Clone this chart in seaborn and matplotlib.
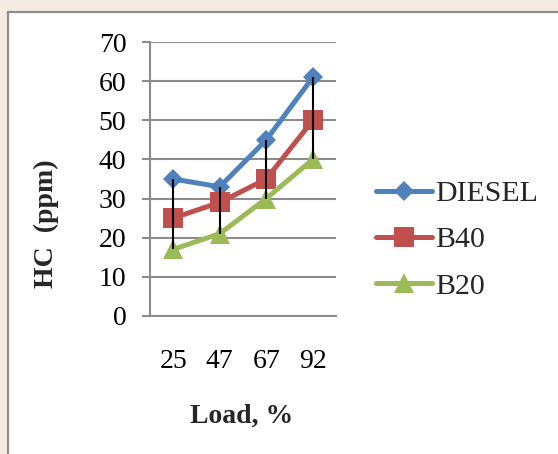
import matplotlib
matplotlib.use("Agg")
import matplotlib.pyplot as plt
from matplotlib.patches import Rectangle
import numpy as np
import pandas as pd
import seaborn as sns

loads = ["25", "47", "67", "92"]
diesel = [35, 33, 45, 61]
b40 = [25, 29, 35, 50]
b20 = [17, 21, 30, 40]
series_names = ["DIESEL", "B40", "B20"]
colors = ["#4F81BD", "#C0504D", "#9BBB59"]
markers = ["D", "s", "^"]
msizes = [10, 14, 15]
yticks = [0, 10, 20, 30, 40, 50, 60, 70]

df = pd.DataFrame({
    "Load": loads * 3,
    "HC": diesel + b40 + b20,
    "Fuel": [n for n in series_names for _ in loads],
})

sns.set_theme(style="white")
plt.rcParams["font.family"] = ["Liberation Serif", "DejaVu Serif"]

fig = plt.figure(figsize=(5.58, 4.54), dpi=100)
fig.patch.set_facecolor("#f4ece3")
frame = Rectangle((8 / 558, -0.2), 1.2, 1.2 - 12 / 454,
                  transform=fig.transFigure, facecolor="white",
                  edgecolor="#8c8c8c", linewidth=1.6, zorder=-10)
fig.patches.append(frame)

ax = fig.add_axes([150 / 558, 1 - 315.7 / 454, 186 / 558, 273.4 / 454])
ax.set_facecolor("none")

sns.pointplot(data=df, x="Load", y="HC", hue="Fuel", order=loads,
              hue_order=series_names, palette=colors, markers=markers,
              linestyles=["-", "-", "-"], errorbar=None, dodge=False,
              linewidth=3.6, ax=ax)

for line, ms in zip(ax.lines[:3], msizes):
    line.set_markersize(ms)
    line.set_markeredgewidth(0)
    line.set_solid_capstyle("round")

# high-low lines
hi = np.max([diesel, b40, b20], axis=0)
lo = np.min([diesel, b40, b20], axis=0)
ax.vlines(np.arange(len(loads)), lo, hi, color="black", linewidth=1.5, zorder=10)

ax.set_ylim(0, 70)
ax.set_xlim(-0.5, 3.5)
ax.set_yticks(yticks)
ax.yaxis.grid(True, color="#8c8c8c", linewidth=1.5)
ax.set_axisbelow(True)
for side in ["top", "right"]:
    ax.spines[side].set_visible(False)
for side in ["left", "bottom"]:
    ax.spines[side].set_color("#8c8c8c")
    ax.spines[side].set_linewidth(1.5)
ax.tick_params(axis="y", length=6, width=1.5, color="#8c8c8c", pad=11,
               labelsize=20, left=True, labelcolor="black")
ax.tick_params(axis="x", length=0, pad=24, labelsize=20, labelcolor="black")

ax.set_ylabel("HC  (ppm)", fontsize=20, fontweight="bold")
ax.yaxis.set_label_coords(-0.49, 0.335)
ax.set_xlabel("Load, %", fontsize=20, fontweight="bold")
ax.xaxis.set_label_coords(0.495, -0.323)

handles, labels = ax.get_legend_handles_labels()
for h, ms in zip(handles, msizes):
    try:
        h.set_markersize(ms)
        h.set_markeredgewidth(0)
    except Exception:
        pass
ax.legend(handles, labels, loc="center left",
          bbox_to_anchor=(376 / 558, 1 - 240 / 454), bbox_transform=fig.transFigure,
          frameon=False, fontsize=21.5, borderpad=0, borderaxespad=0,
          handlelength=1.87, handletextpad=0.1, labelspacing=0.65)

fig.savefig("out.png", dpi=100, facecolor=fig.get_facecolor())
